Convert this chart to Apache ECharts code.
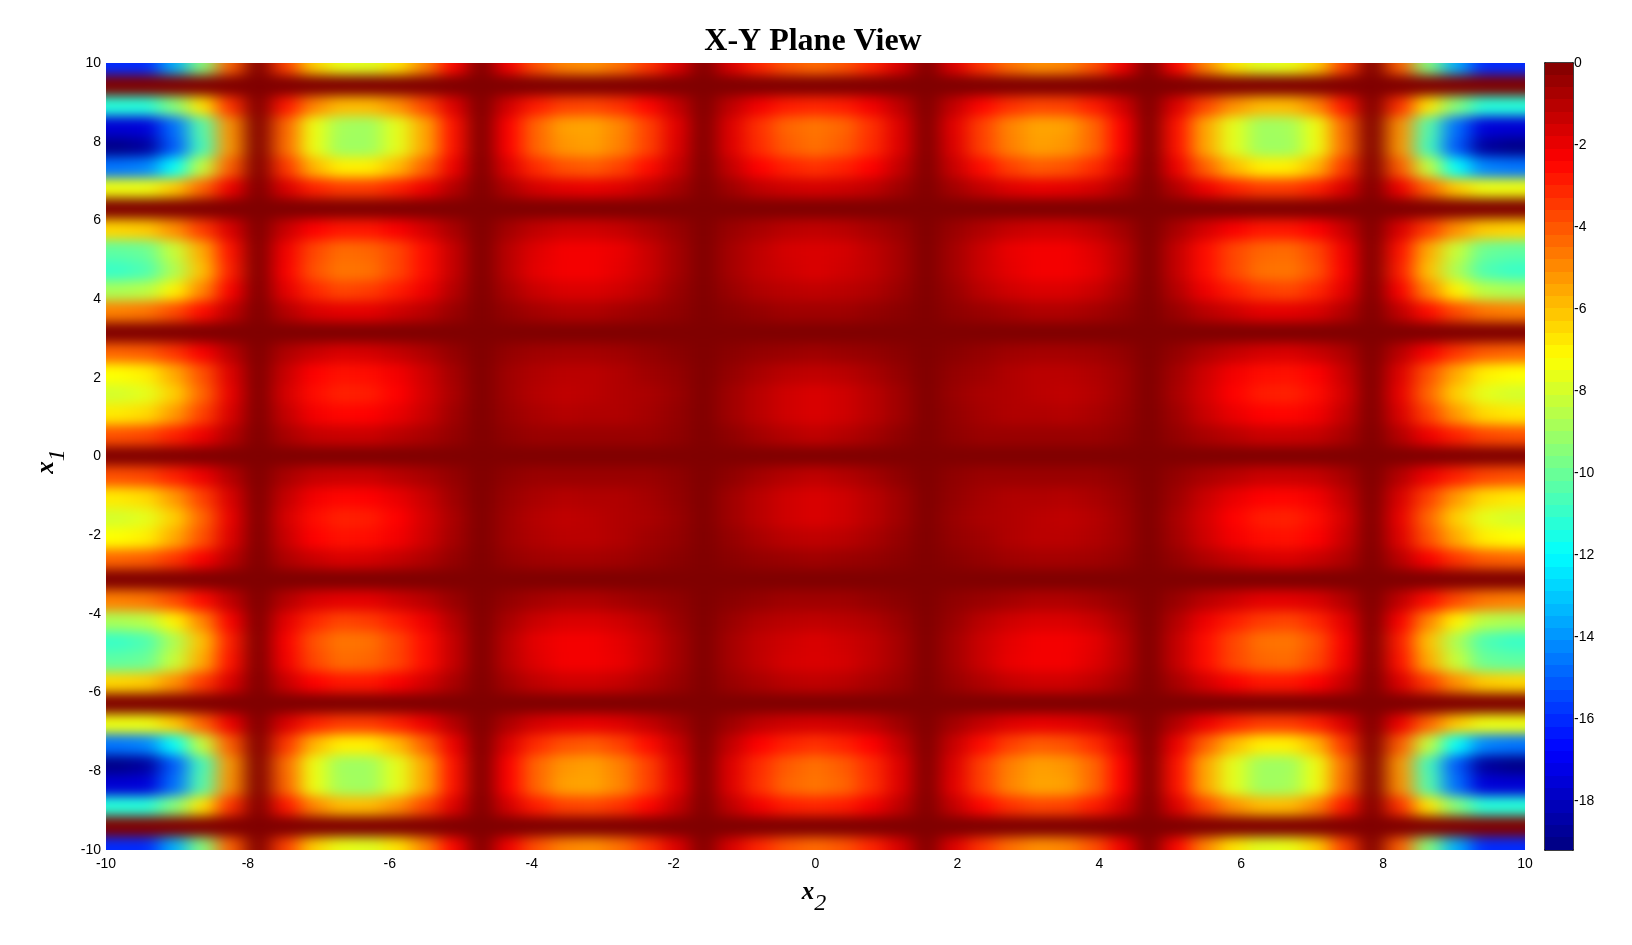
<!DOCTYPE html>
<html><head><meta charset="utf-8">
<style>html,body{margin:0;padding:0;background:#fff}#c{width:1632px;height:945px;position:relative}
canvas[data-zr-dom-id="zr_1"]{filter:url(#soft);clip-path:inset(63px 107px 95px 106px)}</style>
<script src="https://cdn.jsdelivr.net/npm/echarts@6/dist/echarts.min.js"></script>
</head><body>
<svg width="0" height="0" style="position:absolute"><filter id="soft" x="0" y="0" width="100%" height="100%" color-interpolation-filters="sRGB"><feGaussianBlur stdDeviation="10 6"/></filter></svg>
<div id="c"></div>
<script>
const x2Values=[-9.82,-9.42,-9.03,-8.64,-8.25,-7.85,-7.46,-7.07,-6.68,-6.28,-5.89,-5.5,-5.11,-4.71,-4.32,-3.93,-3.53,-3.14,-2.75,-2.36,-1.96,-1.57,-1.18,-.79,-.39,0,.39,.79,1.18,1.57,1.96,2.36,2.75,3.14,3.53,3.93,4.32,4.71,5.11,5.5,5.89,6.28,6.68,7.07,7.46,7.85,8.25,8.64,9.03,9.42,9.82];
const x1Values=[9.95,9.42,8.9,8.38,7.85,7.33,6.81,6.28,5.76,5.24,4.71,4.19,3.67,3.14,2.62,2.09,1.57,1.05,.52,0,-.52,-1.05,-1.57,-2.09,-2.62,-3.14,-3.67,-4.19,-4.71,-5.24,-5.76,-6.28,-6.81,-7.33,-7.85,-8.38,-8.9,-9.42,-9.95];
const colorbarLevels=[-.15,-.45,-.75,-1.05,-1.35,-1.65,-1.95,-2.25,-2.55,-2.85,-3.15,-3.45,-3.75,-4.05,-4.35,-4.65,-4.95,-5.25,-5.55,-5.85,-6.15,-6.45,-6.75,-7.05,-7.35,-7.65,-7.95,-8.25,-8.55,-8.85,-9.15,-9.45,-9.75,-10.05,-10.35,-10.65,-10.95,-11.25,-11.55,-11.85,-12.15,-12.45,-12.75,-13.05,-13.35,-13.65,-13.95,-14.25,-14.55,-14.85,-15.15,-15.45,-15.75,-16.05,-16.35,-16.65,-16.95,-17.25,-17.55,-17.85,-18.15,-18.45,-18.75,-19.05];
const colorbarTicks=[0,-2,-4,-6,-8,-10,-12,-14,-16,-18];
const jetColors=['#000080','#0000ff','#0080ff','#00ffff','#80ff80','#ffff00','#ff8000','#ff0000','#800000'];
const zRows=[
[-16,-16,-13.5,-9.5,-4.2,0,-3.6,-6.3,-7.6,-7.8,-6.7,-4.9,-2.5,0,-2.2,-3.9,-4.9,-5.1,-4.5,-3.4,-1.8,0,-1.7,-3.1,-4,-4.4,-4,-3.1,-1.7,0,-1.8,-3.4,-4.5,-5.1,-4.9,-3.9,-2.2,0,-2.5,-4.9,-6.7,-7.8,-7.6,-6.3,-3.6,0,-4.2,-9.5,-13.5,-16,-16],
[0,0,0,0,0,0,0,0,0,0,0,0,0,0,0,0,0,0,0,0,0,0,0,0,0,0,0,0,0,0,0,0,0,0,0,0,0,0,0,0,0,0,0,0,0,0,0,0,0,0,0],
[-11.3,-11.3,-9.5,-6.7,-3.3,0,-2.8,-4.9,-5.9,-5.9,-5.1,-3.7,-1.8,0,-1.6,-2.9,-3.6,-3.7,-3.3,-2.5,-1.3,0,-1.2,-2.2,-2.9,-3.1,-2.9,-2.2,-1.2,0,-1.3,-2.5,-3.3,-3.7,-3.6,-2.9,-1.6,0,-1.8,-3.7,-5.1,-5.9,-5.9,-4.9,-2.8,0,-3.3,-6.7,-9.5,-11.3,-11.3],
[-17.6,-17.5,-14.7,-10.4,-5.1,0,-4.3,-7.5,-8.9,-9,-7.7,-5.5,-2.7,0,-2.4,-4.3,-5.4,-5.5,-4.9,-3.6,-1.9,0,-1.8,-3.3,-4.3,-4.6,-4.3,-3.3,-1.8,0,-1.9,-3.6,-4.9,-5.5,-5.4,-4.3,-2.4,0,-2.7,-5.5,-7.7,-9,-8.9,-7.5,-4.3,0,-5.1,-10.4,-14.7,-17.5,-17.6],
[-19,-18.6,-15.1,-10.7,-5.2,0,-4.4,-7.5,-9,-9,-7.7,-5.5,-2.7,0,-2.4,-4.3,-5.2,-5.4,-4.8,-3.6,-1.8,0,-1.8,-3.2,-4.1,-4.5,-4.1,-3.2,-1.8,0,-1.8,-3.6,-4.8,-5.4,-5.2,-4.3,-2.4,0,-2.7,-5.5,-7.7,-9,-9,-7.5,-4.4,0,-5.2,-10.7,-15.1,-18.6,-19],
[-14.6,-14.3,-11.9,-8.3,-4.1,0,-3.4,-5.8,-6.9,-6.9,-5.9,-4.2,-2.1,0,-1.8,-3.2,-3.9,-4.1,-3.6,-2.6,-1.4,0,-1.3,-2.4,-3,-3.3,-3,-2.4,-1.3,0,-1.4,-2.6,-3.6,-4.1,-3.9,-3.2,-1.8,0,-2.1,-4.2,-5.9,-6.9,-6.9,-5.8,-3.4,0,-4.1,-8.3,-11.9,-14.3,-14.6],
[-7.5,-7.5,-6.2,-4.3,-2.1,0,-1.7,-3,-3.5,-3.5,-3,-2.1,-1,0,-.9,-1.6,-1.9,-2,-1.8,-1.3,-.7,0,-.6,-1.2,-1.5,-1.6,-1.5,-1.2,-.6,0,-.7,-1.3,-1.8,-2,-1.9,-1.6,-.9,0,-1,-2.1,-3,-3.5,-3.5,-3,-1.7,0,-2.1,-4.3,-6.2,-7.5,-7.5],
[0,0,0,0,0,0,0,0,0,0,0,0,0,0,0,0,0,0,0,0,0,0,0,0,0,0,0,0,0,0,0,0,0,0,0,0,0,0,0,0,0,0,0,0,0,0,0,0,0,0,0],
[-6.4,-6.2,-5.1,-3.5,-1.7,0,-1.4,-2.4,-2.8,-2.8,-2.3,-1.6,-.8,0,-.7,-1.2,-1.5,-1.5,-1.3,-.9,-.5,0,-.5,-.8,-1.1,-1.2,-1.1,-.8,-.5,0,-.5,-.9,-1.3,-1.5,-1.5,-1.2,-.7,0,-.8,-1.6,-2.3,-2.8,-2.8,-2.4,-1.4,0,-1.7,-3.5,-5.1,-6.2,-6.4],
[-10.2,-10,-8.2,-5.6,-2.7,0,-2.2,-3.7,-4.4,-4.3,-3.7,-2.6,-1.3,0,-1.1,-1.8,-2.2,-2.2,-2,-1.4,-.7,0,-.7,-1.2,-1.6,-1.7,-1.6,-1.2,-.7,0,-.7,-1.4,-2,-2.2,-2.2,-1.8,-1.1,0,-1.3,-2.6,-3.7,-4.3,-4.4,-3.7,-2.2,0,-2.7,-5.6,-8.2,-10,-10.2],
[-10.9,-10.5,-8.7,-6,-2.9,0,-2.3,-3.9,-4.6,-4.5,-3.7,-2.6,-1.3,0,-1.1,-1.9,-2.2,-2.2,-1.9,-1.4,-.7,0,-.7,-1.2,-1.5,-1.7,-1.5,-1.2,-.7,0,-.7,-1.4,-1.9,-2.2,-2.2,-1.9,-1.1,0,-1.3,-2.6,-3.7,-4.5,-4.6,-3.9,-2.3,0,-2.9,-6,-8.7,-10.5,-10.9],
[-8.8,-8.5,-7,-4.9,-2.3,0,-1.9,-3.1,-3.7,-3.5,-2.9,-2.1,-1,0,-.8,-1.4,-1.7,-1.7,-1.5,-1.1,-.5,0,-.5,-.9,-1.1,-1.2,-1.1,-.9,-.5,0,-.5,-1.1,-1.5,-1.7,-1.7,-1.4,-.8,0,-1,-2.1,-2.9,-3.5,-3.7,-3.1,-1.9,0,-2.3,-4.9,-7,-8.5,-8.8],
[-4.8,-4.6,-3.8,-2.6,-1.2,0,-1,-1.7,-1.9,-1.9,-1.5,-1.1,-.5,0,-.4,-.7,-.9,-.9,-.7,-.5,-.3,0,-.2,-.4,-.6,-.6,-.6,-.4,-.2,0,-.3,-.5,-.7,-.9,-.9,-.7,-.4,0,-.5,-1.1,-1.5,-1.9,-1.9,-1.7,-1,0,-1.2,-2.6,-3.8,-4.6,-4.8],
[0,0,0,0,0,0,0,0,0,0,0,0,0,0,0,0,0,0,0,0,0,0,0,0,0,0,0,0,0,0,0,0,0,0,0,0,0,0,0,0,0,0,0,0,0,0,0,0,0,0,0],
[-4.3,-4.1,-3.4,-2.3,-1.1,0,-.9,-1.4,-1.7,-1.6,-1.3,-.9,-.4,0,-.4,-.6,-.7,-.7,-.6,-.4,-.2,0,-.2,-.4,-.5,-.6,-.5,-.4,-.2,0,-.2,-.4,-.6,-.7,-.7,-.6,-.4,0,-.4,-.9,-1.3,-1.6,-1.7,-1.4,-.9,0,-1.1,-2.3,-3.4,-4.1,-4.3],
[-7.2,-6.9,-5.6,-3.9,-1.8,0,-1.4,-2.4,-2.7,-2.6,-2.2,-1.5,-.7,0,-.6,-.9,-1.1,-1.1,-.9,-.6,-.4,0,-.4,-.8,-1.1,-1.2,-1.1,-.8,-.4,0,-.4,-.6,-.9,-1.1,-1.1,-.9,-.6,0,-.7,-1.5,-2.2,-2.6,-2.7,-2.4,-1.4,0,-1.8,-3.9,-5.6,-6.9,-7.2],
[-8,-7.7,-6.3,-4.3,-2,0,-1.6,-2.6,-3,-2.9,-2.4,-1.6,-.8,0,-.6,-1,-1.2,-1.1,-.9,-.8,-.5,0,-.6,-1.1,-1.5,-1.7,-1.5,-1.1,-.6,0,-.5,-.8,-.9,-1.1,-1.2,-1,-.6,0,-.8,-1.6,-2.4,-2.9,-3,-2.6,-1.6,0,-2,-4.3,-6.3,-7.7,-8],
[-6.8,-6.5,-5.3,-3.6,-1.7,0,-1.3,-2.2,-2.5,-2.4,-2,-1.4,-.6,0,-.5,-.8,-1,-.9,-.9,-.7,-.4,0,-.6,-1.1,-1.5,-1.7,-1.5,-1.1,-.6,0,-.4,-.7,-.9,-.9,-1,-.8,-.5,0,-.6,-1.4,-2,-2.4,-2.5,-2.2,-1.3,0,-1.7,-3.6,-5.3,-6.5,-6.8],
[-3.9,-3.7,-3,-2.1,-1,0,-.8,-1.3,-1.4,-1.4,-1.1,-.8,-.4,0,-.3,-.5,-.5,-.5,-.5,-.5,-.3,0,-.3,-.7,-1,-1.2,-1,-.7,-.3,0,-.3,-.5,-.5,-.5,-.5,-.5,-.3,0,-.4,-.8,-1.1,-1.4,-1.4,-1.3,-.8,0,-1,-2.1,-3,-3.7,-3.9],
[0,0,0,0,0,0,0,0,0,0,0,0,0,0,0,0,0,0,0,0,0,0,0,0,0,0,0,0,0,0,0,0,0,0,0,0,0,0,0,0,0,0,0,0,0,0,0,0,0,0,0],
[-3.9,-3.7,-3,-2.1,-1,0,-.8,-1.3,-1.4,-1.4,-1.1,-.8,-.4,0,-.3,-.5,-.5,-.5,-.5,-.5,-.3,0,-.3,-.7,-1,-1.2,-1,-.7,-.3,0,-.3,-.5,-.5,-.5,-.5,-.5,-.3,0,-.4,-.8,-1.1,-1.4,-1.4,-1.3,-.8,0,-1,-2.1,-3,-3.7,-3.9],
[-6.8,-6.5,-5.3,-3.6,-1.7,0,-1.3,-2.2,-2.5,-2.4,-2,-1.4,-.6,0,-.5,-.8,-1,-.9,-.9,-.7,-.4,0,-.6,-1.1,-1.5,-1.7,-1.5,-1.1,-.6,0,-.4,-.7,-.9,-.9,-1,-.8,-.5,0,-.6,-1.4,-2,-2.4,-2.5,-2.2,-1.3,0,-1.7,-3.6,-5.3,-6.5,-6.8],
[-8,-7.7,-6.3,-4.3,-2,0,-1.6,-2.6,-3,-2.9,-2.4,-1.6,-.8,0,-.6,-1,-1.2,-1.1,-.9,-.8,-.5,0,-.6,-1.1,-1.5,-1.7,-1.5,-1.1,-.6,0,-.5,-.8,-.9,-1.1,-1.2,-1,-.6,0,-.8,-1.6,-2.4,-2.9,-3,-2.6,-1.6,0,-2,-4.3,-6.3,-7.7,-8],
[-7.2,-6.9,-5.6,-3.9,-1.8,0,-1.4,-2.4,-2.7,-2.6,-2.2,-1.5,-.7,0,-.6,-.9,-1.1,-1.1,-.9,-.6,-.4,0,-.4,-.8,-1.1,-1.2,-1.1,-.8,-.4,0,-.4,-.6,-.9,-1.1,-1.1,-.9,-.6,0,-.7,-1.5,-2.2,-2.6,-2.7,-2.4,-1.4,0,-1.8,-3.9,-5.6,-6.9,-7.2],
[-4.3,-4.1,-3.4,-2.3,-1.1,0,-.9,-1.4,-1.7,-1.6,-1.3,-.9,-.4,0,-.4,-.6,-.7,-.7,-.6,-.4,-.2,0,-.2,-.4,-.5,-.6,-.5,-.4,-.2,0,-.2,-.4,-.6,-.7,-.7,-.6,-.4,0,-.4,-.9,-1.3,-1.6,-1.7,-1.4,-.9,0,-1.1,-2.3,-3.4,-4.1,-4.3],
[0,0,0,0,0,0,0,0,0,0,0,0,0,0,0,0,0,0,0,0,0,0,0,0,0,0,0,0,0,0,0,0,0,0,0,0,0,0,0,0,0,0,0,0,0,0,0,0,0,0,0],
[-4.8,-4.6,-3.8,-2.6,-1.2,0,-1,-1.7,-1.9,-1.9,-1.5,-1.1,-.5,0,-.4,-.7,-.9,-.9,-.7,-.5,-.3,0,-.2,-.4,-.6,-.6,-.6,-.4,-.2,0,-.3,-.5,-.7,-.9,-.9,-.7,-.4,0,-.5,-1.1,-1.5,-1.9,-1.9,-1.7,-1,0,-1.2,-2.6,-3.8,-4.6,-4.8],
[-8.8,-8.5,-7,-4.9,-2.3,0,-1.9,-3.1,-3.7,-3.5,-2.9,-2.1,-1,0,-.8,-1.4,-1.7,-1.7,-1.5,-1.1,-.5,0,-.5,-.9,-1.1,-1.2,-1.1,-.9,-.5,0,-.5,-1.1,-1.5,-1.7,-1.7,-1.4,-.8,0,-1,-2.1,-2.9,-3.5,-3.7,-3.1,-1.9,0,-2.3,-4.9,-7,-8.5,-8.8],
[-10.9,-10.5,-8.7,-6,-2.9,0,-2.3,-3.9,-4.6,-4.5,-3.7,-2.6,-1.3,0,-1.1,-1.9,-2.2,-2.2,-1.9,-1.4,-.7,0,-.7,-1.2,-1.5,-1.7,-1.5,-1.2,-.7,0,-.7,-1.4,-1.9,-2.2,-2.2,-1.9,-1.1,0,-1.3,-2.6,-3.7,-4.5,-4.6,-3.9,-2.3,0,-2.9,-6,-8.7,-10.5,-10.9],
[-10.2,-10,-8.2,-5.6,-2.7,0,-2.2,-3.7,-4.4,-4.3,-3.7,-2.6,-1.3,0,-1.1,-1.8,-2.2,-2.2,-2,-1.4,-.7,0,-.7,-1.2,-1.6,-1.7,-1.6,-1.2,-.7,0,-.7,-1.4,-2,-2.2,-2.2,-1.8,-1.1,0,-1.3,-2.6,-3.7,-4.3,-4.4,-3.7,-2.2,0,-2.7,-5.6,-8.2,-10,-10.2],
[-6.4,-6.2,-5.1,-3.5,-1.7,0,-1.4,-2.4,-2.8,-2.8,-2.3,-1.6,-.8,0,-.7,-1.2,-1.5,-1.5,-1.3,-.9,-.5,0,-.5,-.8,-1.1,-1.2,-1.1,-.8,-.5,0,-.5,-.9,-1.3,-1.5,-1.5,-1.2,-.7,0,-.8,-1.6,-2.3,-2.8,-2.8,-2.4,-1.4,0,-1.7,-3.5,-5.1,-6.2,-6.4],
[0,0,0,0,0,0,0,0,0,0,0,0,0,0,0,0,0,0,0,0,0,0,0,0,0,0,0,0,0,0,0,0,0,0,0,0,0,0,0,0,0,0,0,0,0,0,0,0,0,0,0],
[-7.5,-7.5,-6.2,-4.3,-2.1,0,-1.7,-3,-3.5,-3.5,-3,-2.1,-1,0,-.9,-1.6,-1.9,-2,-1.8,-1.3,-.7,0,-.6,-1.2,-1.5,-1.6,-1.5,-1.2,-.6,0,-.7,-1.3,-1.8,-2,-1.9,-1.6,-.9,0,-1,-2.1,-3,-3.5,-3.5,-3,-1.7,0,-2.1,-4.3,-6.2,-7.5,-7.5],
[-14.6,-14.3,-11.9,-8.3,-4.1,0,-3.4,-5.8,-6.9,-6.9,-5.9,-4.2,-2.1,0,-1.8,-3.2,-3.9,-4.1,-3.6,-2.6,-1.4,0,-1.3,-2.4,-3,-3.3,-3,-2.4,-1.3,0,-1.4,-2.6,-3.6,-4.1,-3.9,-3.2,-1.8,0,-2.1,-4.2,-5.9,-6.9,-6.9,-5.8,-3.4,0,-4.1,-8.3,-11.9,-14.3,-14.6],
[-19,-18.6,-15.1,-10.7,-5.2,0,-4.4,-7.5,-9,-9,-7.7,-5.5,-2.7,0,-2.4,-4.3,-5.2,-5.4,-4.8,-3.6,-1.8,0,-1.8,-3.2,-4.1,-4.5,-4.1,-3.2,-1.8,0,-1.8,-3.6,-4.8,-5.4,-5.2,-4.3,-2.4,0,-2.7,-5.5,-7.7,-9,-9,-7.5,-4.4,0,-5.2,-10.7,-15.1,-18.6,-19],
[-17.6,-17.5,-14.7,-10.4,-5.1,0,-4.3,-7.5,-8.9,-9,-7.7,-5.5,-2.7,0,-2.4,-4.3,-5.4,-5.5,-4.9,-3.6,-1.9,0,-1.8,-3.3,-4.3,-4.6,-4.3,-3.3,-1.8,0,-1.9,-3.6,-4.9,-5.5,-5.4,-4.3,-2.4,0,-2.7,-5.5,-7.7,-9,-8.9,-7.5,-4.3,0,-5.1,-10.4,-14.7,-17.5,-17.6],
[-11.3,-11.3,-9.5,-6.7,-3.3,0,-2.8,-4.9,-5.9,-5.9,-5.1,-3.7,-1.8,0,-1.6,-2.9,-3.6,-3.7,-3.3,-2.5,-1.3,0,-1.2,-2.2,-2.9,-3.1,-2.9,-2.2,-1.2,0,-1.3,-2.5,-3.3,-3.7,-3.6,-2.9,-1.6,0,-1.8,-3.7,-5.1,-5.9,-5.9,-4.9,-2.8,0,-3.3,-6.7,-9.5,-11.3,-11.3],
[0,0,0,0,0,0,0,0,0,0,0,0,0,0,0,0,0,0,0,0,0,0,0,0,0,0,0,0,0,0,0,0,0,0,0,0,0,0,0,0,0,0,0,0,0,0,0,0,0,0,0],
[-16,-16,-13.5,-9.5,-4.2,0,-3.6,-6.3,-7.6,-7.8,-6.7,-4.9,-2.5,0,-2.2,-3.9,-4.9,-5.1,-4.5,-3.4,-1.8,0,-1.7,-3.1,-4,-4.4,-4,-3.1,-1.7,0,-1.8,-3.4,-4.5,-5.1,-4.9,-3.9,-2.2,0,-2.5,-4.9,-6.7,-7.8,-7.6,-6.3,-3.6,0,-4.2,-9.5,-13.5,-16,-16]
];

function edges(values, first, last){
  const e=[first];
  for(let i=0;i<values.length-1;i++) e.push((values[i]+values[i+1])/2);
  e.push(last);
  return e;
}
const x2Edges=edges(x2Values,-10,10), x1Edges=edges(x1Values,10,-10);
const cells=[];
zRows.forEach((row,r)=>row.forEach((z,c)=>cells.push([x2Values[c],x1Values[r],z,c,r])));
function pxRect(a,b,fill,grow){
  const g=grow||[0,0,0,0];
  const x0=Math.floor(Math.min(a[0],b[0]))-g[0], x1=Math.ceil(Math.max(a[0],b[0]))+g[1];
  const y0=Math.floor(Math.min(a[1],b[1]))-g[2], y1=Math.ceil(Math.max(a[1],b[1]))+g[3];
  return {type:'rect',shape:{x:x0,y:y0,width:x1-x0,height:y1-y0},style:{fill:fill}};
}
const labelFont={fontFamily:'Liberation Sans',fontSize:14,color:'#000'};
const nameRich=tail=>({rich:{x:{fontFamily:'Liberation Serif',fontStyle:'italic',fontWeight:'bold',fontSize:25,color:'#000',padding:[0,0,10,0]},
  s:{fontFamily:'Liberation Serif',fontStyle:'italic',fontSize:24,color:'#000',padding:[12,tail,0,0]}}});
const cbStep=Math.abs(colorbarLevels[1]-colorbarLevels[0]);
const bleed=40;
const chart=echarts.init(document.getElementById('c'),null,{renderer:'canvas'});
chart.setOption({
  animation:false,
  backgroundColor:'#fff',
  title:{text:'X-Y Plane View',left:808,top:21,textAlign:'center',textStyle:{fontFamily:'Liberation Serif',fontSize:32,fontWeight:'bold',color:'#000'}},
  grid:[
    {left:106,top:63,width:1419,height:787,containLabel:false},
    {left:1545,top:63,width:28,height:787,containLabel:false}
  ],
  visualMap:{show:false,type:'continuous',min:-19.2,max:0,dimension:2,seriesIndex:[0,1],inRange:{color:jetColors}},
  xAxis:[
    {gridIndex:0,type:'value',min:-10,max:10,interval:2,splitLine:{show:false},axisLine:{show:false},axisTick:{show:false},
     axisLabel:Object.assign({margin:7,showMinLabel:true,showMaxLabel:true},labelFont),
     name:'{x|x}{s|2}',nameLocation:'middle',nameGap:30,nameTextStyle:nameRich(3)},
    {gridIndex:1,type:'value',min:0,max:1,position:'bottom',splitLine:{show:false},axisTick:{show:false},axisLabel:{show:false},axisLine:{onZero:false,lineStyle:{color:'#000',width:1.5}}},
    {gridIndex:1,type:'value',min:0,max:1,position:'top',splitLine:{show:false},axisTick:{show:false},axisLabel:{show:false},axisLine:{onZero:false,lineStyle:{color:'#000',width:1.5}}}
  ],
  yAxis:[
    {gridIndex:0,type:'value',min:-10,max:10,interval:2,splitLine:{show:false},axisLine:{show:false},axisTick:{show:false},
     axisLabel:Object.assign({margin:5,padding:[4,0,0,0]},labelFont),
     name:'{x|x}{s|1}',nameLocation:'middle',nameGap:26,nameRotate:90,nameTextStyle:nameRich(10)},
    {gridIndex:1,type:'value',min:-19.2,max:0,position:'right',splitLine:{show:false},
     axisLine:{onZero:false,lineStyle:{color:'#000',width:1.5}},
     axisTick:{inside:true,length:8,customValues:colorbarTicks,lineStyle:{color:'#000',width:1}},
     axisLabel:Object.assign({margin:1,padding:[4,0,0,0],customValues:colorbarTicks},labelFont)},
    {gridIndex:1,type:'value',min:-19.2,max:0,position:'left',splitLine:{show:false},
     axisLine:{onZero:false,lineStyle:{color:'#000',width:1.5}},
     axisTick:{inside:true,length:7,customValues:colorbarTicks,lineStyle:{color:'#000',width:1}},
     axisLabel:{show:false}}
  ],
  series:[
    {type:'custom',xAxisIndex:0,yAxisIndex:0,zlevel:1,clip:false,silent:true,data:cells,encode:{x:0,y:1},
     renderItem:(p,api)=>{
       const c=api.value(3), r=api.value(4);
       const grow=[c===0?bleed:0,c===x2Values.length-1?bleed:0,r===0?bleed:0,r===x1Values.length-1?bleed:0];
       return pxRect(api.coord([x2Edges[c],x1Edges[r]]),api.coord([x2Edges[c+1],x1Edges[r+1]]),api.visual('color'),grow);
     }},
    {type:'custom',xAxisIndex:1,yAxisIndex:1,clip:true,silent:true,
     data:colorbarLevels.map(v=>[0,v,v]),encode:{x:0,y:1},
     renderItem:(p,api)=>{
       const v=api.value(1);
       return pxRect(api.coord([0,v+cbStep/2]),api.coord([1,v-cbStep/2]),api.visual('color'));
     }}
  ]
});
</script></body></html>
